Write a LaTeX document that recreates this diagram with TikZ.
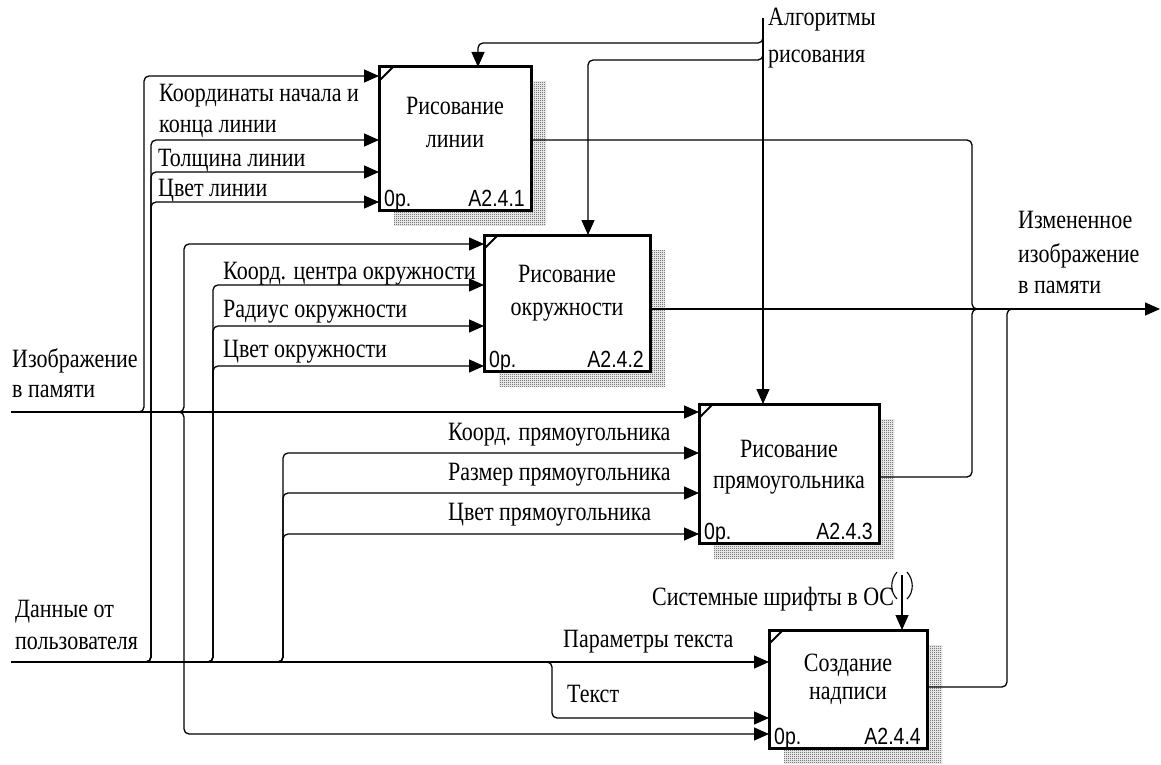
\documentclass[tikz,border=0pt]{standalone}
\usepackage{fontspec}
\setmainfont{Liberation Serif}
\newfontfamily\numfont{Liberation Sans}
\usetikzlibrary{arrows.meta,calc,patterns,backgrounds}
\newcommand{\vst}[1]{\scalebox{1}[1.2]{#1}}
\pgfdeclarepatternformonly{finechecker}{\pgfpointorigin}{\pgfpoint{2pt}{2pt}}{\pgfpoint{2pt}{2pt}}{%
  \pgfpathrectangle{\pgfpointorigin}{\pgfpoint{1pt}{1pt}}%
  \pgfpathrectangle{\pgfpoint{1pt}{1pt}}{\pgfpoint{1pt}{1pt}}%
  \pgfusepath{fill}}
\begin{document}
\begin{tikzpicture}[x=1pt,y=-1pt,
  conn/.style={line width=1.3pt, rounded corners=5pt},
  arr/.style={conn, -{Triangle[length=15pt,width=13pt]}},
  idefbox/.style={draw, line width=3pt, fill=white, anchor=north west, inner sep=0pt, outer sep=0pt},
  lbl/.style={font=\fontsize{22}{26}\selectfont, inner sep=0pt, anchor=base west},
  ttl/.style={font=\fontsize{22}{26}\selectfont, inner sep=0pt, anchor=base},
  num/.style={font=\numfont\fontsize{19.5}{22}\selectfont, inner sep=0pt},
  shadowfill/.style={pattern=finechecker, pattern color=black!80},
  corner/.style={line width=1.8pt}]
\useasboundingbox (0,0) rectangle (1161,765);

% boxes
\node[idefbox, minimum width=152pt, minimum height=143pt] (b1) at (379,67) {};
\node[idefbox, minimum width=166pt, minimum height=136pt] (b2) at (484,235) {};
\node[idefbox, minimum width=180pt, minimum height=139pt] (b3) at (699,404) {};
\node[idefbox, minimum width=158pt, minimum height=118pt] (b4) at (769,630) {};

\begin{scope}[on background layer]
\fill[white] (0,0) rectangle (1161,765);
\foreach \b in {b1,b2,b3,b4}
  \fill[shadowfill] ($(\b.north west)+(15,15)$) rectangle ($(\b.south east)+(15,15)$);
\end{scope}

\foreach \b in {b1,b2,b3,b4}
  \draw[corner] ($(\b.north west)+(14,0)$) -- ($(\b.north west)+(0,14)$);

% titles
\node[ttl] (t1a) at (b1.north |- 0,115) {\vst{Рисование}};
\node[ttl] (t1b) at (b1.north |- 0,147) {\vst{линии}};
\node[ttl] (t2a) at (b2.north |- 0,282) {\vst{Рисование}};
\node[ttl] (t2b) at (b2.north |- 0,315) {\vst{окружности}};
\node[ttl] (t3a) at (b3.north |- 0,457) {\vst{Рисование}};
\node[ttl] (t3b) at (b3.north |- 0,488) {\vst{прямоугольника}};
\node[ttl] (t4a) at (b4.north |- 0,671) {\vst{Создание}};
\node[ttl] (t4b) at (b4.north |- 0,699) {\vst{надписи}};

% numbers
\node[num, anchor=base west] (n1a) at ($(b1.south west)+(5,-4)$) {\vst{0р.}};
\node[num, anchor=base east] (n1b) at ($(b1.south east)+(-6,-4)$) {\vst{A2.4.1}};
\node[num, anchor=base west] (n2a) at ($(b2.south west)+(5,-4)$) {\vst{0р.}};
\node[num, anchor=base east] (n2b) at ($(b2.south east)+(-6,-4)$) {\vst{A2.4.2}};
\node[num, anchor=base west] (n3a) at ($(b3.south west)+(5,-4)$) {\vst{0р.}};
\node[num, anchor=base east] (n3b) at ($(b3.south east)+(-6,-4)$) {\vst{A2.4.3}};
\node[num, anchor=base west] (n4a) at ($(b4.south west)+(5,-4)$) {\vst{0р.}};
\node[num, anchor=base east] (n4b) at ($(b4.south east)+(-6,-4)$) {\vst{A2.4.4}};

% free ends
\coordinate (srcImg) at (11,412);
\coordinate (srcData) at (11,662);
\coordinate (srcAlg) at (763,18);
\coordinate (srcFont) at (902,575);
\coordinate (dstOut) at (1160,309);

% image in memory
\draw[arr] (srcImg) -- (b3.west |- srcImg);
\draw[arr] (131,412) -| (144,76) -- (b1.west |- 0,76);
\draw[arr] (172,412) -| (184,244) -- (b2.west |- 0,244);
\draw[arr] (172,412) -| (184,734) -- (b4.west |- 0,734);

% user data
\draw[arr] (srcData) -- (b4.west |- srcData);
\foreach \yy in {140,172,202}
  \draw[arr] (138,662) -| (151,\yy) -- (b1.west |- 0,\yy);
\foreach \yy in {285,326,366}
  \draw[arr] (200,662) -| (213,\yy) -- (b2.west |- 0,\yy);
\foreach \yy in {453,493,534}
  \draw[arr] (270,662) -| (283,\yy) -- (b3.west |- 0,\yy);
\draw[arr] (540,662) -| (552,718) -- (b4.west |- 0,718);

% controls
\draw[arr] (srcAlg) -- (b3.north -| srcAlg);
\draw[arr] (763,28) |- (478,43) -- (b1.north -| 478,0);
\draw[arr] (763,50) |- (588,60) -- (b2.north -| 588,0);
\draw[arr] (srcFont) -- (b4.north -| srcFont);
\draw[line width=1.1pt] (897,572) .. controls (890,580) and (890,592) .. (897,599);
\draw[line width=1.1pt] (907,572) .. controls (914,580) and (914,592) .. (907,599);

% outputs
\draw[conn] (b1.east |- 0,140) -| (972,309) -- (986,309);
\draw[arr] (b2.east |- 0,309) -- (dstOut);
\draw[conn] (b3.east |- 0,477) -| (972,309) -- (986,309);
\draw[conn] (b4.east |- 0,687) -| (1007,309) -- (1020,309);

% labels
\node[lbl] (l1) at (159,102) {\vst{Координаты начала и}};
\node[lbl] (l2) at (159,132) {\vst{конца линии}};
\node[lbl] (l3) at (158,166) {\vst{Толщина линии}};
\node[lbl] (l4) at (158,196) {\vst{Цвет линии}};
\node[lbl] (l5) at (223,279) {\vst{Коорд. центра окружности}};
\node[lbl] (l6) at (223,317) {\vst{Радиус окружности}};
\node[lbl] (l7) at (223,357) {\vst{Цвет окружности}};
\node[lbl] (l8) at (12,367) {\vst{Изображение}};
\node[lbl] (l9) at (12,397) {\vst{в памяти}};
\node[lbl] (l10) at (448,440) {\vst{Коорд. прямоугольника}};
\node[lbl] (l11) at (448,480) {\vst{Размер прямоугольника}};
\node[lbl] (l12) at (448,520) {\vst{Цвет прямоугольника}};
\node[lbl] (l13) at (15,617) {\vst{Данные от}};
\node[lbl] (l14) at (15,649) {\vst{пользователя}};
\node[lbl] (l15) at (563,647) {\vst{Параметры текста}};
\node[lbl] (l16) at (567,702) {\vst{Текст}};
\node[lbl] (l17) at (652,605) {\vst{Системные шрифты в ОС}};
\node[lbl] (l18) at (768,26) {\vst{Алгоритмы}};
\node[lbl] (l19) at (768,63) {\vst{рисования}};
\node[lbl] (l20) at (1018,228) {\vst{Измененное}};
\node[lbl] (l21) at (1018,262) {\vst{изображение}};
\node[lbl] (l22) at (1018,293) {\vst{в памяти}};
\end{tikzpicture}
\end{document}
